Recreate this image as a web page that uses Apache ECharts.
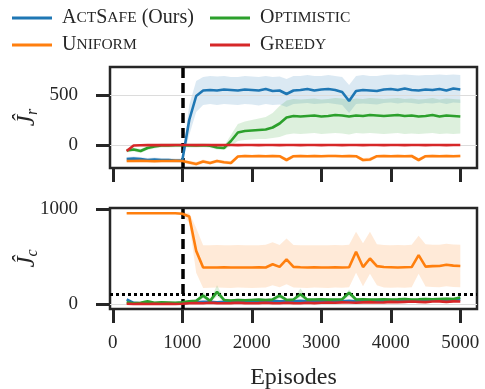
<!DOCTYPE html>
<html>
<head>
<meta charset="utf-8">
<script src="https://cdn.jsdelivr.net/npm/echarts@6/dist/echarts.min.js"></script>
<style>
html,body{margin:0;padding:0;background:#fff}
#chart{width:485px;height:389px}
</style>
</head>
<body>
<div id="chart"></div>
<script>
// episodes (x)
var episodes=[200,300,400,500,600,700,800,900,1000,1100,1200,1300,1400,1500,1600,1700,1800,1900,2000,
  2100,2200,2300,2400,2500,2600,2700,2800,2900,3000,3100,3200,3300,3400,3500,3600,3700,3800,3900,4000,
  4100,4200,4300,4400,4500,4600,4700,4800,4900,5000];
var xTicks=[0,1000,2000,3000,4000,5000];
var jrTicks=[0,500];
var jcTicks=[0,1000];
var warmup=1000;
var costBudget=100;

// top panel: J_r
var actsafeR=[-140,-135,-140,-150,-145,-150,-150,-155,-155,
  250,490,545,550,545,555,550,545,555,550,545,560,540,545,510,545,550,560,545,555,
  560,550,530,440,540,550,545,540,555,560,550,565,550,545,555,550,560,545,565,555];
var actsafeRLo=[-160,-155,-160,-170,-165,-170,-170,-175,-175,
  100,330,400,410,400,410,405,400,410,405,395,410,400,405,380,410,415,420,410,415,
  420,410,400,320,410,415,410,405,420,425,415,425,420,410,420,415,425,410,425,420];
var actsafeRHi=[-120,-115,-120,-130,-125,-130,-130,-135,-135,
  400,640,680,690,685,690,680,680,690,685,680,690,680,685,660,690,690,700,690,690,
  700,690,680,600,690,700,690,690,700,705,700,705,700,695,700,700,705,700,705,700];

var uniformR=[-160,-160,-158,-160,-162,-160,-160,-158,-160,
  -175,-190,-165,-180,-160,-172,-180,-115,-110,-112,-110,-112,-110,-112,-150,-112,-110,-112,-110,-112,
  -110,-110,-112,-110,-112,-150,-145,-112,-110,-112,-110,-112,-110,-150,-112,-110,-112,-110,-112,-110];
var uniformRLo=[-172,-172,-170,-172,-175,-172,-172,-170,-172,
  -195,-210,-185,-198,-178,-190,-198,-130,-125,-127,-125,-127,-125,-127,-170,-127,-125,-127,-125,-127,
  -125,-125,-127,-125,-127,-170,-165,-127,-125,-127,-125,-127,-125,-170,-127,-125,-127,-125,-127,-125];
var uniformRHi=[-148,-148,-146,-148,-150,-148,-148,-146,-148,
  -155,-170,-145,-162,-142,-155,-162,-100,-95,-97,-95,-97,-95,-97,-130,-97,-95,-97,-95,-97,
  -95,-95,-97,-95,-97,-130,-125,-97,-95,-97,-95,-97,-95,-130,-97,-95,-97,-95,-97,-95];

var optimisticR=[-55,-45,-60,-30,-15,-5,-5,-3,-3,
  -5,-5,-3,-8,-25,-30,40,125,140,145,150,155,175,215,275,290,285,290,295,285,
  290,300,295,285,295,290,300,295,290,295,300,290,295,285,290,300,285,295,290,285];
var optimisticRLo=[-75,-65,-80,-50,-35,-25,-25,-23,-23,
  -25,-25,-23,-28,-45,-50,-10,40,50,55,60,60,70,80,105,115,110,115,120,110,
  115,120,115,105,120,115,120,115,110,115,120,110,115,110,115,120,110,115,110,115];
var optimisticRHi=[-35,-25,-40,-10,5,15,15,17,17,
  15,15,17,12,-5,-10,100,210,235,250,265,280,320,390,445,460,455,460,465,455,
  460,470,465,450,465,460,470,465,460,465,470,460,465,455,460,470,455,465,460,455];

var greedyR=[-60,-5,-2,0,-1,0,-1,0,0,
  0,-1,0,0,-1,0,0,-1,0,0,-1,0,0,-1,0,0,-1,0,0,-1,
  0,0,-1,0,0,-1,0,0,-1,0,0,-1,0,0,-1,0,0,-1,0,0];

// bottom panel: J_c
var actsafeC=[50,15,10,8,10,8,10,8,10,
  15,20,25,25,20,25,30,25,30,28,30,28,35,30,32,30,35,30,32,35,
  38,35,30,35,32,35,38,35,40,38,40,42,38,40,45,42,45,48,45,50];

var uniformC=[955,955,955,955,955,955,955,955,950,
  920,560,386,386,386,388,386,386,386,386,388,386,420,392,470,392,388,386,388,386,
  386,388,386,388,550,390,480,400,390,388,386,388,390,515,395,400,402,415,405,402];
var uniformCLo=[948,948,948,948,948,948,948,948,940,
  850,330,170,172,175,172,170,175,172,170,172,175,200,178,210,175,172,170,175,172,
  170,175,172,178,330,190,320,200,175,172,175,172,178,320,185,180,178,190,180,178];
var uniformCHi=[962,962,962,962,962,962,962,962,960,
  960,800,620,618,622,620,618,622,620,618,620,625,650,622,690,622,620,618,620,618,
  620,622,620,625,760,640,760,630,622,620,622,620,625,720,630,625,625,635,628,625];

var optimisticC=[20,10,15,30,15,20,18,15,20,
  30,35,90,35,130,45,40,45,42,45,48,45,50,90,45,50,105,48,50,52,
  48,50,52,120,50,52,48,50,52,50,52,55,50,52,55,52,55,58,55,70];
var optimisticCLo=[5,0,2,15,2,5,5,2,5,
  15,20,60,20,80,30,25,30,28,30,32,30,35,60,30,35,70,32,35,36,
  32,35,36,80,35,36,32,35,36,35,36,38,35,36,38,36,38,40,38,50];
var optimisticCHi=[35,25,30,45,30,35,32,30,35,
  45,50,130,50,200,62,55,60,58,60,64,60,65,125,60,65,165,64,65,68,
  64,65,68,155,65,68,64,65,68,65,68,72,65,68,72,68,72,76,72,90];

var greedyC=[5,3,5,3,5,3,5,3,5,
  10,12,10,15,12,10,12,15,12,10,12,15,12,10,15,12,10,15,12,15,
  18,15,20,18,15,20,22,18,20,25,22,25,28,25,22,28,30,25,30,28];

var blue='#1f77b4', orange='#ff7f0e', green='#2ca02c', red='#d62728';
var ink='#262626';
var serif="'Liberation Serif','Times New Roman',serif";

function pairs(ys){
  return episodes.map(function(x,i){return [x,ys[i]];});
}

function line(name,ys,color,g){
  return {name:name,type:'line',xAxisIndex:g,yAxisIndex:g,data:pairs(ys),
    symbol:'none',showSymbol:false,silent:true,z:5,
    lineStyle:{color:color,width:2.6},itemStyle:{color:color}};
}

// shaded band drawn as one polygon through the axis scales
function band(lo,hi,color,g){
  return {type:'custom',xAxisIndex:g,yAxisIndex:g,silent:true,z:2,
    data:episodes.map(function(x,i){return [x,lo[i],hi[i]];}),
    encode:{x:0,y:[1,2]},
    renderItem:function(params,api){
      if(params.dataIndex!==0) return;
      var pts=[];
      for(var i=0;i<episodes.length;i++) pts.push(api.coord([episodes[i],hi[i]]));
      for(var j=episodes.length-1;j>=0;j--) pts.push(api.coord([episodes[j],lo[j]]));
      return {type:'polygon',shape:{points:pts},style:{fill:color}};
    }};
}

function refLines(g,data,style,z){
  return {type:'line',xAxisIndex:g,yAxisIndex:g,data:[[0,0]],symbol:'none',silent:true,z:z,
    lineStyle:{opacity:0},
    markLine:{silent:true,symbol:'none',label:{show:false},animation:false,
      lineStyle:style,data:data}};
}

function plain(v){return String(v);}

function xAx(g,showLabel){
  return {type:'value',gridIndex:g,min:-40,max:5240,
    axisLine:{show:false,onZero:false},
    axisTick:{show:true,inside:false,length:14,customValues:xTicks,lineStyle:{color:ink,width:3}},
    axisLabel:{show:showLabel,customValues:xTicks,formatter:plain,margin:25,fontFamily:serif,fontSize:19,color:ink},
    splitLine:{show:false},
    name:showLabel?'Episodes':'',nameLocation:'middle',nameGap:57,nameMoveOverlap:false,
    nameTextStyle:{fontFamily:serif,fontSize:24,color:ink}};
}

function yAx(g,min,max,ticks,sub){
  return {type:'value',gridIndex:g,min:min,max:max,
    axisLine:{show:false,onZero:false},
    axisTick:{show:true,inside:false,length:14,customValues:ticks,lineStyle:{color:ink,width:3}},
    axisLabel:{customValues:ticks,formatter:plain,margin:32,fontFamily:serif,fontSize:19,color:ink},
    splitLine:{show:false},
    name:'{j|Ĵ}{s|'+sub+'}',nameLocation:'middle',nameGap:69,nameRotate:90,nameMoveOverlap:false,
    nameTextStyle:{rich:{
      j:{fontFamily:serif,fontStyle:'italic',fontSize:25,lineHeight:28,color:ink},
      s:{fontFamily:serif,fontStyle:'italic',fontSize:16,lineHeight:16,verticalAlign:'bottom',color:ink}
    }}};
}

var legendText={
  'ActSafe (Ours)':'{b|A}{s|CT}{b|S}{s|AFE}{b| (Ours)}',
  'Uniform':'{b|U}{s|NIFORM}',
  'Optimistic':'{b|O}{s|PTIMISTIC}',
  'Greedy':'{b|G}{s|REEDY}'
};
function leg(name,left,top){
  return {data:[name],left:left,top:top,padding:0,itemGap:0,icon:'rect',itemWidth:40,itemHeight:3,
    selectedMode:false,
    formatter:function(n){return legendText[n];},
    textStyle:{padding:[0,0,0,5],rich:{
      b:{fontFamily:serif,fontSize:20,color:ink},
      s:{fontFamily:serif,fontSize:15.5,color:ink}
    }}};
}

var chart=echarts.init(document.getElementById('chart'),null,{renderer:'canvas'});
var series=[
  refLines(0,[{yAxis:0},{yAxis:500}],{color:'#dcdcdc',width:1,type:'solid'},1),
  refLines(1,[{yAxis:0}],{color:'#dcdcdc',width:1,type:'solid'},1),
  band(actsafeRLo,actsafeRHi,'rgba(31,119,180,0.16)',0),
  band(uniformRLo,uniformRHi,'rgba(255,127,14,0.16)',0),
  band(optimisticRLo,optimisticRHi,'rgba(44,160,44,0.16)',0),
  band(uniformCLo,uniformCHi,'rgba(255,127,14,0.16)',1),
  band(optimisticCLo,optimisticCHi,'rgba(44,160,44,0.16)',1),
  line('ActSafe (Ours)',actsafeR,blue,0),
  line('Uniform',uniformR,orange,0),
  line('Optimistic',optimisticR,green,0),
  line('Greedy',greedyR,red,0),
  line('ActSafe (Ours)',actsafeC,blue,1),
  line('Uniform',uniformC,orange,1),
  line('Optimistic',optimisticC,green,1),
  line('Greedy',greedyC,red,1),
  refLines(0,[{xAxis:warmup}],{color:'#000',width:3.5,type:[10,5]},10),
  refLines(1,[{xAxis:warmup}],{color:'#000',width:3.5,type:[10,5]},10),
  refLines(1,[{yAxis:costBudget}],{color:'#000',width:3,type:[3,3]},10)
];

chart.setOption({
  animation:false,
  backgroundColor:'#fff',
  legend:[leg('ActSafe (Ours)',12,8),leg('Uniform',12,35),leg('Optimistic',210,8),leg('Greedy',210,35)],
  grid:[
    {left:110,top:67,width:367,height:101,show:true,borderColor:ink,borderWidth:2.5,
      backgroundColor:'transparent',containLabel:false,outerBoundsMode:'none'},
    {left:110,top:208,width:367,height:101,show:true,borderColor:ink,borderWidth:2.5,
      backgroundColor:'transparent',containLabel:false,outerBoundsMode:'none'}
  ],
  xAxis:[xAx(0,false),xAx(1,true)],
  yAxis:[yAx(0,-230,780,jrTicks,'r'),yAx(1,-50,1010,jcTicks,'c')],
  series:series
});
</script>
</body>
</html>
